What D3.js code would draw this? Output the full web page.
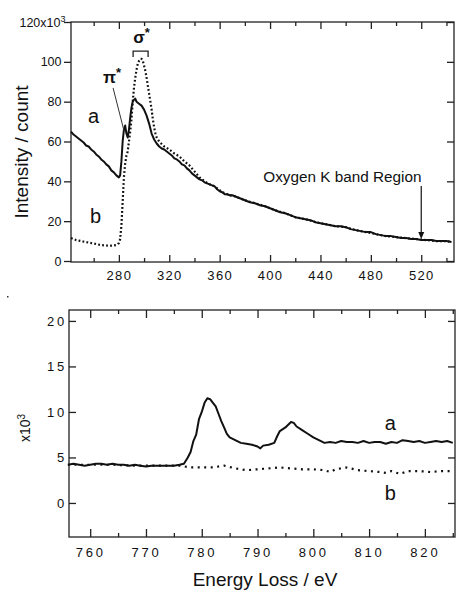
<!doctype html>
<html lang="en">
<head>
<meta charset="utf-8">
<title>EELS spectra</title>
<script src="https://d3js.org/d3.v7.min.js"></script>
<style>
  body { margin: 0; background: #fff; }
  svg text { font-family: "Liberation Sans", Arial, sans-serif; fill: #111; }
</style>
</head>
<body>
<script>
// Top panel (C K-edge), [energy eV, counts x10^3]
const topCurveA = [[242,65],[244,63.5],[246,62.5],[248,61.5],[250,60.5],[252,59.5],[254,58],[256,57.5],[258,56],[260,55],
  [262,53.5],[264,52.5],[266,51],[268,50],[270,48.5],[272,47.5],[274,45.5],[276,44.5],[278,43],[280,42],[281,43],[282,50],
  [283,60],[284,66],[285,68],[286,64],[287,62],[288,66],[289,72],[290,77],[291,80],[292,81],[293,81.5],[294,80],[295,79.5],
  [296,79],[298,78],[300,76],[302,73],[304,69],[306,64],[308,61],[310,59],[312,57.5],[314,56.5],[316,56],[318,55],[320,54],
  [322,53],[324,51.5],[326,51],[328,50],[330,48.5],[332,48],[334,46.5],[336,45.5],[338,44],[340,43],[342,42],[344,41],
  [346,40.5],[348,39.5],[350,39],[352,38.5],[354,38],[356,37.5],[358,36],[360,35],[362,34.5],[364,33.5],[366,33.5],[368,33],
  [370,33],[372,32.5],[374,32],[376,31.5],[378,31],[380,30.5],[384,29.5],[388,29],[392,28],[396,27.5],[400,26.5],[404,25.5],
  [408,24.5],[412,24],[416,23],[420,22],[424,21.5],[428,21],[432,20.5],[436,19.5],[440,19],[444,18.5],[448,18],[452,17.5],
  [456,17.5],[460,17],[464,16],[468,15.5],[472,15],[476,14.5],[480,14.5],[484,13.5],[488,13],[492,12.5],[496,12.5],[500,12],
  [504,11.5],[508,11.5],[512,11],[516,11],[520,10.5],[524,10.5],[528,10.5],[532,10],[536,10],[540,10],[544,9.5]];
const topCurveB = [[242,11.5],[246,10.5],[250,10],[254,9.5],[258,9],[262,8.5],[266,8],[270,7.8],[274,7.7],[278,8],[280,9],
  [281,11],[282,18],[283,30],[284,42],[285,49],[286,53],[287,55],[288,60],[289,65],[290,71],[291,80],[292,87],[293,92],
  [294,96],[295,99],[296,100.5],[297,101.5],[298,101.5],[299,100.5],[300,98],[301,95.5],[302,92],[303,88],[304,84],[305,80],
  [306,76],[307,71],[308,67],[309,64],[310,62],[312,60],[316,57.5],[320,56],[324,54],[328,52.5],[332,50],[336,48],[340,45],
  [344,42],[348,40],[352,38.5],[356,37.5],[360,35.5],[364,34],[368,33],[372,32.5],[376,31.5],[380,30.5],[388,29],[396,27.5],
  [404,25.5],[412,24],[420,22],[428,21],[436,19.5],[444,18.5],[452,17.5],[460,17],[468,15.5],[476,14.5],[484,13.5],[492,12.5],
  [500,12],[508,11.5],[516,11],[524,10.5],[532,10],[540,10],[544,9.5]];

// Bottom panel (Fe L-edge region), [energy eV, counts x10^3]
const botCurveA = [[756,4.2],[757,4.3],[758,4.2],[759,4.1],[760,4.2],[761,4.3],[762,4.3],[763,4.2],[764,4.3],[765,4.2],
  [766,4.2],[767,4.1],[768,4.2],[769,4.1],[770,4.0],[771,4.1],[772,4.1],[773,4.1],[774,4.1],[775,4.1],[776,4.2],[776.8,4.3],
  [777.5,5.0],[778,5.6],[778.5,6.8],[779,7.5],[779.5,9.2],[780,10],[780.5,11],[781,11.5],[781.5,11.4],[782,11.0],[782.5,10.6],
  [783,9.8],[783.5,9.0],[784,8.3],[784.5,7.6],[785,7.2],[786,6.9],[787,6.6],[788,6.5],[789,6.4],[790,6.2],[790.5,6.0],[791,6.3],
  [792,6.4],[793,6.6],[793.5,7.3],[794,7.9],[795,8.3],[795.5,8.6],[796,8.9],[796.5,8.8],[797,8.4],[798,8.0],[799,7.6],[800,7.2],
  [801,6.9],[802,6.6],[803,6.7],[804,6.6],[805,6.8],[806,6.7],[807,6.7],[808,6.6],[809,6.8],[810,6.6],[811,6.7],[812,6.7],
  [813,6.5],[814,6.7],[815,6.6],[816,6.9],[817,6.8],[818,6.7],[819,6.8],[820,6.6],[821,6.7],[822,6.8],[823,6.7],[824,6.8],[825,6.6]];
const botCurveB = [[756,4.2],[760,4.2],[764,4.2],[768,4.1],[772,4.1],[776,4.1],[778,3.9],[780,3.9],[782,3.9],[784,4.1],
  [786,3.8],[788,3.6],[790,3.7],[792,3.8],[794,3.9],[796,3.8],[798,3.7],[800,3.7],[802,3.6],[803,3.4],[804,3.7],[806,3.9],
  [808,3.6],[810,3.5],[812,3.4],[813,3.3],[814,3.5],[815.5,3.2],[817,3.5],[819,3.5],[821,3.4],[823,3.5],[825,3.5]];

// Ticks
const topXMajor = [280,320,360,400,440,480,520];
const topXMinor = [260,300,340,380,420,460,500,540];
const topYTicks = [0,20,40,60,80,100,120];
const botXMajor = [760,770,780,790,800,810,820];
const botXMinor = [765,775,785,795,805,815,825];
const botYTicks = [0,5,10,15,20];

const W = 457, H = 592;
const svg = d3.select("body").append("svg").attr("width", W).attr("height", H);

const topX = d3.scaleLinear().domain([242, 546]).range([71, 454]);
const topY = d3.scaleLinear().domain([-0.5, 120]).range([262, 22]);
const botX = d3.scaleLinear().domain([756.2, 825.4]).range([69, 455]);
const botY = d3.scaleLinear().domain([-3.74, 21.2]).range([537, 310]);

function drawFrame(x, y, o)
{
    const g = svg.append("g");
    const [x0, x1] = x.range();
    const [y0, y1] = y.range();

    // bottom, major + minor
    const b = g.append("g").attr("transform", `translate(0,${y0})`)
        .call(d3.axisBottom(x).tickValues(o.xMajor).tickSizeInner(-o.major).tickSizeOuter(0).tickPadding(o.xPad));
    b.selectAll("text").attr("font-size", o.xFont).attr("letter-spacing", o.xSpace);
    g.append("g").attr("transform", `translate(0,${y0})`)
        .call(d3.axisBottom(x).tickValues(o.xMinor).tickSizeInner(-o.minor).tickSizeOuter(0).tickFormat(""));
    // top mirror
    g.append("g").attr("transform", `translate(0,${y1})`)
        .call(d3.axisTop(x).tickValues(o.xMajor).tickSizeInner(-o.major).tickSizeOuter(0).tickFormat(""));
    g.append("g").attr("transform", `translate(0,${y1})`)
        .call(d3.axisTop(x).tickValues(o.xMinor).tickSizeInner(-o.minor).tickSizeOuter(0).tickFormat(""));
    // left
    const l = g.append("g").attr("transform", `translate(${x0},0)`)
        .call(d3.axisLeft(y).tickValues(o.yTicks).tickSizeInner(o.leftSize).tickSizeOuter(0).tickPadding(o.yPad));
    l.selectAll("text").attr("font-size", o.yFont).attr("letter-spacing", o.ySpace);
    // right
    g.append("g").attr("transform", `translate(${x1},0)`)
        .call(d3.axisRight(y).tickValues(o.yTicks).tickSizeInner(-7).tickSizeOuter(0).tickFormat(""));

    g.selectAll(".domain").remove();
    g.selectAll(".tick line").attr("stroke", "#222").attr("stroke-width", 1.3);
    g.selectAll("text").attr("font-family", "Liberation Sans, Arial, sans-serif").attr("fill", "#111");

    g.append("rect")
        .attr("x", x0).attr("y", y1)
        .attr("width", x1 - x0).attr("height", y0 - y1)
        .attr("fill", "none").attr("stroke", "#222").attr("stroke-width", 1.3);
    return l;
}

function drawCurve(data, x, y, dash)
{
    svg.append("path")
        .datum(data)
        .attr("fill", "none")
        .attr("stroke", "#111")
        .attr("stroke-width", dash ? 2.2 : 2)
        .attr("stroke-dasharray", dash)
        .attr("stroke-linejoin", "round")
        .attr("d", d3.line().x(d => x(d[0])).y(d => y(d[1])));
}

// ---- top panel
const topLeft = drawFrame(topX, topY, {
    xMajor: topXMajor, xMinor: topXMinor, yTicks: topYTicks,
    major: 7, minor: 4, xPad: 9, xFont: 13, xSpace: 1.3,
    leftSize: 7, yPad: 2.5, yFont: 12.5, ySpace: 0
});
// 120 label carries the x10^3 multiplier
topLeft.selectAll(".tick text").filter(d => d === 120)
    .text("120x10").attr("dx", 4).attr("letter-spacing", 0)
    .append("tspan").attr("dy", "-0.55em").attr("font-size", 9).text("3");

drawCurve(topCurveB, topX, topY, "1.8,2.2");
drawCurve(topCurveA, topX, topY, null);

// annotations
svg.append("text").attr("x", topX(298)).attr("y", topY(109.5)).attr("text-anchor", "middle")
    .attr("font-size", 17).attr("font-weight", "bold")
    .text("σ").append("tspan").attr("dy", "-0.45em").attr("font-size", 13).text("*");
svg.append("path").attr("fill", "none").attr("stroke", "#222").attr("stroke-width", 1.3)
    .attr("d", `M${topX(291.3)},${topY(102.4)}V${topY(105.4)}H${topX(303.2)}V${topY(102.4)}`);
svg.append("text").attr("x", topX(267.4)).attr("y", topY(89.4))
    .attr("font-size", 17).attr("font-weight", "bold")
    .text("π").append("tspan").attr("dy", "-0.45em").attr("font-size", 13).text("*");
svg.append("line").attr("stroke", "#333").attr("stroke-width", 1)
    .attr("x1", topX(275.4)).attr("y1", topY(86.9)).attr("x2", topX(284.1)).attr("y2", topY(65.3));
svg.append("text").attr("x", topX(255.5)).attr("y", topY(69.3)).attr("font-size", 20).text("a");
svg.append("text").attr("x", topX(257.1)).attr("y", topY(19.1)).attr("font-size", 20).text("b");

svg.append("text").attr("x", topX(394.6)).attr("y", topY(39.7)).attr("font-size", 15.3).text("Oxygen K band Region");
svg.append("line").attr("stroke", "#111").attr("stroke-width", 1.2)
    .attr("x1", topX(520)).attr("y1", topY(37.7)).attr("x2", topX(520)).attr("y2", topY(13.5));
svg.append("path").attr("fill", "#111")
    .attr("d", `M${topX(520) - 3},${topY(14.5)}L${topX(520) + 3},${topY(14.5)}L${topX(520)},${topY(11)}Z`);

svg.append("text").attr("transform", "translate(28,152) rotate(-90)").attr("text-anchor", "middle")
    .attr("font-size", 19).text("Intensity / count");

// stray mark in the original figure
svg.append("rect").attr("x", 7).attr("y", 296).attr("width", 1.5).attr("height", 1.5).attr("fill", "#333");

// ---- bottom panel
drawFrame(botX, botY, {
    xMajor: botXMajor, xMinor: botXMinor, yTicks: botYTicks,
    major: 8, minor: 4, xPad: 11, xFont: 13, xSpace: 2.8,
    leftSize: -7, yPad: 2, yFont: 13, ySpace: 2.8
});

drawCurve(botCurveB, botX, botY, "2,4.5");
drawCurve(botCurveA, botX, botY, null);

svg.append("text").attr("x", botX(812.8)).attr("y", botY(8.0)).attr("font-size", 20).text("a");
svg.append("text").attr("x", botX(812.8)).attr("y", botY(0.33)).attr("font-size", 20).text("b");

svg.append("text").attr("transform", "translate(30,428) rotate(-90)").attr("text-anchor", "middle")
    .attr("font-size", 14).text("x10").append("tspan").attr("dy", "-0.55em").attr("font-size", 10).text("3");

svg.append("text").attr("x", 265).attr("y", 586).attr("text-anchor", "middle")
    .attr("font-size", 19).text("Energy Loss / eV");
</script>
</body>
</html>
